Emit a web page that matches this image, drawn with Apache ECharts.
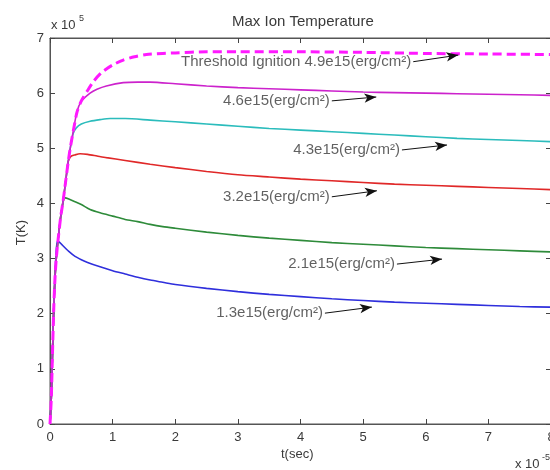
<!DOCTYPE html>
<html>
<head>
<meta charset="utf-8">
<script src="https://cdn.jsdelivr.net/npm/echarts@6/dist/echarts.min.js"></script>
<style>html,body{margin:0;padding:0;background:#fff}#c{width:550px;height:470px}</style>
</head>
<body>
<div id="c"></div>
<script>
// x in units of 1e-5 s, y in units of 1e5 K
const xTicks = [0,1,2,3,4,5,6,7,8];
const yTicks = [0,1,2,3,4,5,6,7];

const s13 = [[0,0],[0.02,0.45],[0.04,1.3],[0.06,2.1],[0.08,2.7],[0.1,3.15],[0.12,3.32],[0.15,3.3],[0.2,3.24],[0.3,3.13],[0.4,3.04],[0.5,2.98],[0.6,2.93],[0.8,2.85],[1.0,2.78],[1.2,2.72],[1.4,2.66],[1.6,2.61],[1.8,2.57],[2,2.53],[2.5,2.46],[3,2.4],[3.5,2.35],[4,2.31],[4.5,2.27],[5,2.24],[5.5,2.21],[6,2.19],[6.5,2.17],[7,2.15],[7.5,2.13],[8,2.12]];
const s21 = [[0,0],[0.02,0.45],[0.04,1.3],[0.06,2.1],[0.08,2.65],[0.1,3.0],[0.13,3.35],[0.17,3.75],[0.21,4.03],[0.24,4.1],[0.3,4.08],[0.4,4.03],[0.5,3.98],[0.64,3.89],[0.8,3.83],[1.0,3.77],[1.2,3.71],[1.4,3.67],[1.6,3.62],[1.8,3.58],[2,3.55],[2.5,3.48],[3,3.42],[3.5,3.37],[4,3.33],[4.5,3.29],[5,3.26],[5.5,3.23],[6,3.2],[6.5,3.18],[7,3.16],[7.5,3.14],[8,3.12]];
const s32 = [[0,0],[0.02,0.45],[0.04,1.3],[0.06,2.1],[0.08,2.65],[0.1,3.0],[0.13,3.35],[0.17,3.75],[0.21,4.05],[0.25,4.4],[0.29,4.76],[0.33,4.85],[0.4,4.88],[0.48,4.9],[0.6,4.89],[0.75,4.86],[0.9,4.83],[1.2,4.78],[1.6,4.71],[2,4.65],[2.5,4.58],[3,4.52],[3.5,4.48],[4,4.44],[4.5,4.41],[5,4.38],[5.5,4.35],[6,4.33],[6.5,4.31],[7,4.29],[7.5,4.27],[8,4.25]];
const s43 = [[0,0],[0.02,0.45],[0.04,1.3],[0.06,2.1],[0.08,2.65],[0.1,3.0],[0.13,3.35],[0.17,3.75],[0.21,4.05],[0.25,4.4],[0.29,4.75],[0.33,5.05],[0.37,5.27],[0.42,5.37],[0.5,5.44],[0.64,5.49],[0.8,5.52],[0.96,5.54],[1.2,5.54],[1.6,5.51],[2,5.48],[2.5,5.44],[3,5.4],[3.5,5.36],[4,5.33],[4.5,5.3],[5,5.27],[5.5,5.24],[6,5.21],[6.5,5.18],[7,5.16],[7.5,5.14],[8,5.12]];
const s46 = [[0,0],[0.02,0.45],[0.04,1.3],[0.06,2.1],[0.08,2.65],[0.1,3.0],[0.13,3.35],[0.17,3.75],[0.21,4.05],[0.25,4.4],[0.29,4.75],[0.33,5.05],[0.37,5.3],[0.43,5.66],[0.5,5.85],[0.64,6.0],[0.75,6.07],[0.9,6.13],[1.17,6.19],[1.4,6.2],[1.6,6.2],[2,6.17],[2.5,6.13],[3,6.1],[3.5,6.08],[4,6.06],[4.5,6.04],[5,6.02],[5.5,6.01],[6,6.0],[6.5,5.99],[7,5.98],[7.5,5.97],[8,5.96]];
const s49 = [[0,0],[0.02,0.45],[0.04,1.3],[0.06,2.1],[0.08,2.65],[0.1,3.0],[0.13,3.35],[0.17,3.75],[0.21,4.05],[0.25,4.4],[0.29,4.75],[0.33,5.05],[0.37,5.3],[0.43,5.65],[0.5,5.86],[0.59,6.03],[0.7,6.22],[0.83,6.38],[1.0,6.51],[1.17,6.6],[1.35,6.66],[1.54,6.7],[1.8,6.72],[2,6.73],[2.5,6.75],[3,6.75],[4,6.75],[5,6.74],[6,6.72],[7,6.71],[8,6.7]];

// annotation labels: text, arrow start (text end), arrow tip
const annText = ['Threshold Ignition 4.9e15(erg/cm²)','4.6e15(erg/cm²)','4.3e15(erg/cm²)','3.2e15(erg/cm²)','2.1e15(erg/cm²)','1.3e15(erg/cm²)'];
const annStart = [[5.80,6.57],[4.50,5.86],[5.62,4.97],[4.50,4.12],[5.54,2.90],[4.39,2.01]];
const annTip = [[6.52,6.69],[5.21,5.93],[6.34,5.06],[5.22,4.23],[6.26,2.99],[5.14,2.12]];

const FONT = '"Liberation Sans", Arial, sans-serif';
const TXT = '#3a3a3a';

const chart = echarts.init(document.getElementById('c'), null, {renderer:'canvas'});

function line(data, color, width, dash, z) {
  return {type:'line', data:data, xAxisIndex:0, yAxisIndex:0, showSymbol:false, symbol:'none',
    smooth:0.25, z:z,
    lineStyle:{color:color, width:width, type:dash?[9,5]:'solid'}, animation:false};
}

function axis(extra) {
  return Object.assign({
    type:'value', splitLine:{show:false},
    axisLine:{show:true, onZero:false, lineStyle:{color:'#555', width:1}},
    axisTick:{show:true, inside:true, length:5, lineStyle:{color:'#444', width:1}}
  }, extra);
}

const gridGeom = {left:50, right:-1, top:38, bottom:46, outerBoundsMode:'none', containLabel:false};

chart.setOption({
  backgroundColor:'#fff',
  animation:false,
  grid:[
    Object.assign({show:true, borderColor:'#555', borderWidth:1, backgroundColor:'transparent'}, gridGeom),
    Object.assign({show:false}, gridGeom)
  ],
  xAxis:[
    axis({gridIndex:0, position:'bottom', min:0, max:8, interval:1,
      axisLabel:{show:true, color:TXT, fontSize:13, fontFamily:FONT, margin:7}}),
    axis({gridIndex:1, position:'top', min:0, max:8, interval:1, axisLabel:{show:false}})
  ],
  yAxis:[
    axis({gridIndex:0, position:'left', min:0, max:7, interval:1,
      axisLabel:{show:true, color:TXT, fontSize:13, fontFamily:FONT, margin:6}}),
    axis({gridIndex:1, position:'right', min:0, max:7, interval:1, axisLabel:{show:false}})
  ],
  series:[
    {type:'line', xAxisIndex:1, yAxisIndex:1, data:[], silent:true},
    line(s13, '#2f2fdc', 1.6, false, 3),
    line(s21, '#2e8b3a', 1.6, false, 3),
    line(s32, '#e02828', 1.6, false, 3),
    line(s43, '#2bbcbc', 1.6, false, 3),
    line(s46, '#cc22cc', 1.6, false, 3),
    line(s49, '#ff19ff', 3, true, 4),
    {
      type:'scatter', xAxisIndex:0, yAxisIndex:0, symbolSize:0, z:6, silent:true,
      data: annText.map((t,i)=>({value:annStart[i], name:t})),
      label:{show:true, position:'left', distance:2, formatter:p=>p.name,
        color:TXT, fontSize:15, fontFamily:FONT},
      markLine:{
        silent:true, animation:false, symbol:['none','arrow'], symbolSize:[7,12],
        lineStyle:{color:'#111', width:1, type:'solid'}, label:{show:false},
        data: annStart.map((s,i)=>[{coord:s},{coord:annTip[i]}])
      }
    }
  ],
  graphic:[
    {type:'text', left:232, top:14, style:{text:'Max Ion Temperature', fill:TXT, font:'15px '+FONT}},
    {type:'text', left:51, top:19, style:{text:'x 10', fill:TXT, font:'13px '+FONT}},
    {type:'text', left:79, top:14, style:{text:'5', fill:TXT, font:'9px '+FONT}},
    {type:'text', left:281, top:448, style:{text:'t(sec)', fill:TXT, font:'13px '+FONT}},
    {type:'text', left:515, top:458, style:{text:'x 10', fill:TXT, font:'13px '+FONT}},
    {type:'text', left:542, top:453, style:{text:'-5', fill:TXT, font:'9px '+FONT}},
    {type:'text', left:15, top:220, rotation:Math.PI/2, style:{text:'T(K)', fill:TXT, font:'13px '+FONT}}
  ]
});
</script>
</body>
</html>
